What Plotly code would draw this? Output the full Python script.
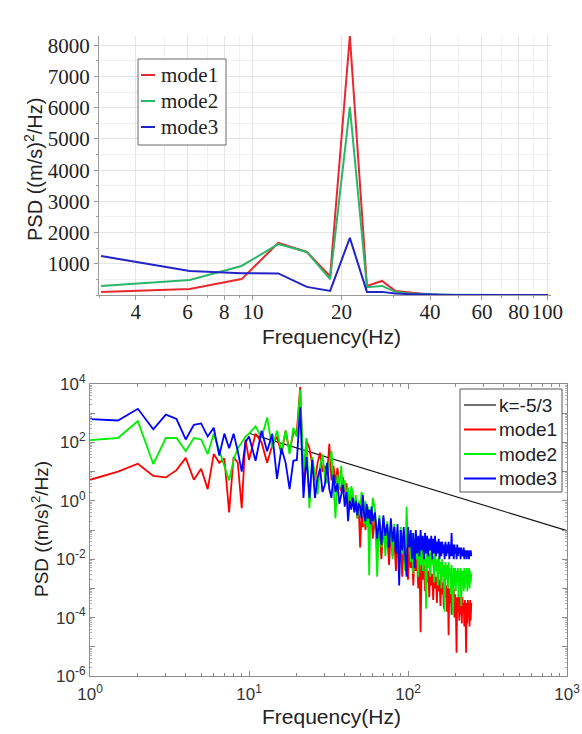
import numpy as np
import plotly.graph_objects as go

W, H = 582, 734

# ---------------- top chart data (linear PSD) ----------------
top_freq = [3.05, 6.10, 9.15, 12.2, 15.25, 18.3, 21.35, 24.4, 27.45, 30.5, 33.55, 36.6,
            39.65, 42.7, 45.75, 48.8, 51.85, 54.9, 57.95, 61.0, 64.05, 67.1, 70.15,
            73.2, 76.25, 79.3, 82.35, 85.4, 88.45, 91.5, 94.55, 97.6, 100.65]
top_mode1 = [100, 190, 510, 1670, 1380, 600, 8300, 290, 450, 130, 90, 50, 20, 12, 8, 6,
             5, 4, 4, 3, 3, 3, 2, 2, 2, 2, 2, 2, 1, 1, 1, 1, 1]
top_mode2 = [290, 480, 930, 1630, 1380, 510, 6030, 250, 290, 100, 60, 40, 15, 10, 7, 5,
             4, 3, 3, 3, 2, 2, 2, 2, 2, 1, 1, 1, 1, 1, 1, 1, 1]
top_mode3 = [1250, 770, 700, 690, 260, 130, 1830, 100, 100, 50, 30, 20, 10, 7, 5, 4,
             3, 3, 2, 2, 2, 2, 1, 1, 1, 1, 1, 1, 1, 1, 1, 1, 1]
top_xticks = [4, 6, 8, 10, 20, 40, 60, 80, 100]
top_yticks = [1000, 2000, 3000, 4000, 5000, 6000, 7000, 8000]

# ---------------- bottom chart data (log10 of PSD) ----------------
bot_freq = np.concatenate([np.arange(1.0, 10.01, 0.5),
                           np.arange(11, 61, 1),
                           np.arange(62, 251, 2)])

mode1_lo = [0.72, 1.0, 1.27, 0.85, 0.8, 1.05, 1.47, 0.72, 1.1, 0.4, 1.6, 1.3, 1.45, -0.4,
            1.5, 1.3, -0.25, 2.1, 1.4]
mode1_mid = [2.3, 2.0, 1.3, 1.9, 2.2, 1.6, 2.4, 1.7, 2.3, 2.4,
             3.9, 0.5, 2.05, 1.8, 1.2, 0.7, 1.3, 1.65, 1.0, 1.2,
             0.9, 1.95, 0.7, 1.2, 0.6, 1.13, 0.5, 0.34, 0.8, 0.3,
             0.6, 0.0, -0.25, 0.2, 0.0, -0.3, 0.1, -0.6, -0.2, -1.6,
             -0.5, -0.9, -0.34, -1.0, -0.5, -0.6, -1.2, -0.4, -0.5, -1.3]
mode1_hi = [-0.5, -1.8, -0.8, -2.0, -0.9, -1.6, -1.1, -2.2, -1.0, -1.9,
            -1.3, -2.4, -1.2, -2.1, -1.5, -2.6, -1.4, -2.2, -1.6, -2.7,
            -1.5, -2.3, -1.8, -2.9, -1.7, -2.4, -2.0, -3.0, -1.9, -4.5,
            -2.0, -2.7, -2.2, -3.1, -2.1, -2.8, -2.4, -3.3, -2.3, -2.9,
            -2.5, -3.4, -2.4, -3.0, -2.6, -3.5, -2.5, -3.1, -2.7, -3.6,
            -2.6, -3.2, -2.8, -3.7, -2.7, -3.3, -2.9, -3.8, -2.8, -4.6,
            -3.0, -3.5, -2.9, -3.9, -3.1, -3.6, -3.0, -4.0, -3.2, -3.7,
            -5.2, -3.3, -3.8, -3.2, -4.1, -3.3, -3.9, -3.4, -4.2, -3.3,
            -3.8, -3.5, -4.3, -3.4, -3.9, -5.2, -3.5, -4.2, -3.4, -4.0,
            -3.5, -4.3, -3.4, -4.1, -3.5]

mode2_lo = [2.08, 2.15, 2.73, 1.26, 2.15, 2.15, 1.7, 2.15, 2.1, 1.6, 2.3, 1.75, 1.2, 0.7,
            1.4, 1.8, 2.0, 2.2, 2.3]
mode2_mid = [2.55, 2.15, 2.85, 1.8, 2.4, 1.7, 2.4, 1.6, 2.5, 2.2,
             3.8, 1.0, 2.15, -0.25, 1.5, 0.9, 0.23, 1.2, 1.6, 0.8,
             0.6, 1.3, 1.7, 0.5, -0.6, 0.9, 0.4, 1.2, 0.3, 0.7,
             0.1, 0.45, -0.2, 0.5, 0.25, -0.4, 0.2, -0.6, 0.0, -0.5,
             0.3, 0.1, -0.8, 0.0, -0.9, -0.2, -2.55, -0.3, -0.7, 0.1]
mode2_hi = [-0.3, -2.6, -0.5, -1.6, -0.6, -1.9, -0.7, -1.5, -0.9, -2.0,
            -0.8, -1.7, -1.0, -2.2, -0.9, -1.8, -1.1, -2.4, -0.2, -1.6,
            -1.2, -2.1, -1.1, -2.5, -1.3, -2.0, -1.4, -2.6, -1.3, -2.2,
            -1.5, -2.4, -1.6, -2.0, -3.7, -1.6, -2.3, -1.8, -2.6, -1.7,
            -2.2, -1.9, -2.8, -1.8, -2.4, -2.0, -2.9, -1.9, -2.5, -2.1,
            -3.0, -2.0, -2.6, -2.2, -3.8, -2.1, -2.7, -2.2, -3.0, -2.1,
            -2.6, -2.3, -3.2, -2.2, -2.8, -3.9, -2.3, -2.9, -2.3, -3.1,
            -2.4, -2.8, -2.3, -3.3, -2.4, -2.9, -2.3, -3.6, -2.4, -2.9,
            -2.4, -3.1, -2.3, -3.0, -2.4, -2.8, -2.3, -3.1, -2.4, -2.9,
            -2.3, -3.0, -2.4, -2.8, -2.5]

mode3_lo = [2.8, 2.75, 3.15, 2.45, 2.95, 2.8, 2.1, 2.6, 2.65, 2.2, 2.5, 1.55, 2.3, 1.8,
            2.3, 1.7, 1.0, 2.0, 2.2]
mode3_mid = [1.37, 2.4, 1.7, 2.3, 0.75, 1.8, 1.3, 0.4, 1.37, 1.4,
             3.2, 0.1, 1.5, 0.1, 1.4, 0.1, 0.8, 1.1, 0.3, 0.55,
             1.3, 0.4, 0.1, 0.9, 0.3, 0.6, -0.1, 0.2, 0.55, -0.2,
             0.3, -0.7, 0.0, -0.3, 0.1, -0.4, 0.0, -0.5, -0.1, -0.2,
             -0.6, 0.2, -0.5, -0.7, -0.1, -0.6, -0.3, -0.8, -0.2, -0.7]
mode3_hi = [-0.4, -1.3, -0.6, -1.5, -0.5, -1.2, -0.8, -1.6, -0.6, -1.4,
            -0.9, -1.8, -0.8, -2.9, -1.0, -1.7, -0.9, -1.9, -2.6, -0.9,
            -1.6, -1.0, -2.0, -1.1, -2.3, -1.0, -1.8, -1.2, -1.9, -1.0,
            -1.7, -1.2, -2.0, -1.1, -1.8, -1.2, -1.9, -1.3, -1.7, -1.2,
            -2.0, -1.3, -1.8, -1.2, -1.9, -1.4, -1.8, -1.3, -2.0, -1.4,
            -1.9, -1.4, -1.8, -1.5, -2.0, -1.4, -1.9, -1.5, -1.8, -1.4,
            -2.0, -1.5, -1.9, -1.1, -1.9, -1.5, -2.0, -1.5, -1.8, -1.6,
            -2.0, -1.5, -1.9, -1.6, -1.8, -1.6, -2.0, -1.6, -1.9, -1.7,
            -1.9, -1.6, -2.0, -1.7, -1.9, -1.7, -2.0, -1.7, -1.9, -1.7,
            -2.0, -1.7, -1.9, -1.7, -1.9]

ref_freq = [10, 1000]
ref_psd = [0.095 * 100 ** (5 / 3), 0.095]   # k = -5/3 reference line

bot_xticks = [1, 10, 100, 1000]
bot_xtext = ["10<sup>0</sup>", "10<sup>1</sup>", "10<sup>2</sup>", "10<sup>3</sup>"]
bot_yticks = [1e-6, 1e-5, 1e-4, 1e-3, 1e-2, 1e-1, 1, 10, 100, 1000, 1e4]
bot_ytext = ["10<sup>-6</sup>", "", "10<sup>-4</sup>", "", "10<sup>-2</sup>", "",
             "10<sup>0</sup>", "", "10<sup>2</sup>", "", "10<sup>4</sup>"]

m1 = 10 ** np.array(mode1_lo + mode1_mid + mode1_hi)
m2 = 10 ** np.array(mode2_lo + mode2_mid + mode2_hi)
m3 = 10 ** np.array(mode3_lo + mode3_mid + mode3_hi)
assert len(m1) == len(m2) == len(m3) == len(bot_freq)

def px(x):
    return x / W

def py(y):
    return 1 - y / H

SERIF = "Liberation Serif"
SANS = "Liberation Sans"
TOP_COLORS = {"mode1": "#e8272e", "mode2": "#2bb568", "mode3": "#2323c8"}
BOT_COLORS = {"mode1": "#ff0000", "mode2": "#00ee00", "mode3": "#0000ff"}

fig = go.Figure()

# top traces
for name, vals in [("mode1", top_mode1), ("mode2", top_mode2), ("mode3", top_mode3)]:
    fig.add_trace(go.Scatter(x=top_freq, y=vals, mode="lines", name=name,
                             line=dict(color=TOP_COLORS[name], width=2),
                             xaxis="x", yaxis="y", showlegend=False))

# bottom traces
fig.add_trace(go.Scatter(x=ref_freq, y=ref_psd, mode="lines", name="k=-5/3",
                         line=dict(color="#111111", width=1.1),
                         xaxis="x2", yaxis="y2", showlegend=False))
for name, vals in [("mode1", m1), ("mode2", m2), ("mode3", m3)]:
    fig.add_trace(go.Scatter(x=bot_freq, y=vals, mode="lines", name=name,
                             line=dict(color=BOT_COLORS[name], width=1.8),
                             xaxis="x2", yaxis="y2", showlegend=False))

axis_line = "#9a9a9a"

fig.update_layout(
    width=W, height=H,
    margin=dict(l=0, r=0, t=0, b=0),
    paper_bgcolor="white", plot_bgcolor="white",
    showlegend=False,
    xaxis=dict(domain=[px(99), px(551)], anchor="y", type="log",
               range=[np.log10(3.0), np.log10(103)],
               tickvals=top_xticks, ticktext=[str(v) for v in top_xticks],
               tickfont=dict(family=SERIF, size=21, color="#222"),
               ticklabelstandoff=-6,
               showline=True, linecolor=axis_line, linewidth=1,
               ticks="outside", ticklen=4, tickcolor=axis_line,
               showgrid=True, gridcolor="#e4e4e4", gridwidth=1,
               minor=dict(dtick="D1", showgrid=True, gridcolor="#f1f1f1",
                          ticks="outside", ticklen=2, tickcolor=axis_line),
               zeroline=False, automargin=False),
    yaxis=dict(domain=[py(295), py(36)], anchor="x",
               range=[0, 8300],
               tickvals=top_yticks, ticktext=[str(v) for v in top_yticks],
               tickfont=dict(family=SERIF, size=21, color="#222"),
               showline=True, linecolor=axis_line, linewidth=1,
               ticks="outside", ticklen=4, tickcolor=axis_line,
               showgrid=True, gridcolor="#e4e4e4",
               minor=dict(dtick=500, showgrid=True, gridcolor="#f1f1f1",
                          ticks="outside", ticklen=2, tickcolor=axis_line),
               zeroline=False, automargin=False),
    xaxis2=dict(domain=[px(90), px(567)], anchor="y2", type="log",
                range=[0, 3],
                tickvals=bot_xticks, ticktext=bot_xtext,
                tickfont=dict(family=SANS, size=17, color="#333"),
                ticklabelstandoff=3,
                showline=True, linecolor="#8c8c8c", linewidth=1, mirror="ticks",
                ticks="inside", ticklen=5, tickcolor="#8c8c8c",
                minor=dict(dtick="D1", ticks="inside", ticklen=3, tickcolor="#8c8c8c"),
                showgrid=False, zeroline=False, automargin=False),
    yaxis2=dict(domain=[py(676), py(384)], anchor="x2", type="log",
                range=[-6, 4],
                tickvals=bot_yticks, ticktext=bot_ytext,
                tickfont=dict(family=SANS, size=17, color="#333"),
                showline=True, linecolor="#8c8c8c", linewidth=1, mirror="ticks",
                ticks="inside", ticklen=5, tickcolor="#8c8c8c",
                minor=dict(dtick="D1", ticks="inside", ticklen=2, tickcolor="#b0b0b0"),
                showgrid=False, zeroline=False, automargin=False),
)

annotations = [
    dict(x=px(331), y=py(336), text="Frequency(Hz)", font=dict(family=SANS, size=21, color="#222")),
    dict(x=px(34), y=py(170), text="PSD ((m/s)<sup>2</sup>/Hz)", textangle=-90,
         font=dict(family=SANS, size=20, color="#222")),
    dict(x=px(331), y=py(716), text="Frequency(Hz)", font=dict(family=SANS, size=21, color="#222")),
    dict(x=px(40), y=py(529), text="PSD ((m/s)<sup>2</sup>/Hz)", textangle=-90,
         font=dict(family=SANS, size=19, color="#222")),
]
for a in annotations:
    a.update(xref="paper", yref="paper", showarrow=False, xanchor="center", yanchor="middle")

shapes = []
# top legend (manual)
shapes.append(dict(type="rect", xref="paper", yref="paper", x0=px(138), x1=px(226),
                   y0=py(145), y1=py(59), line=dict(color="#6a6a6a", width=1),
                   fillcolor="white", layer="above"))
for i, name in enumerate(["mode1", "mode2", "mode3"]):
    yy = 75 + 26 * i
    shapes.append(dict(type="line", xref="paper", yref="paper", x0=px(141), x1=px(155),
                       y0=py(yy), y1=py(yy), line=dict(color=TOP_COLORS[name], width=2),
                       layer="above"))
    annotations.append(dict(x=px(159), y=py(yy), text=name, xref="paper", yref="paper",
                            showarrow=False, xanchor="left", yanchor="middle",
                            font=dict(family=SERIF, size=21, color="#222")))

# bottom legend (manual)
shapes.append(dict(type="rect", xref="paper", yref="paper", x0=px(460), x1=px(562),
                   y0=py(492), y1=py(389), line=dict(color="#555", width=1),
                   fillcolor="white", layer="above"))
for i, (name, col) in enumerate([("k=-5/3", "#111111"), ("mode1", BOT_COLORS["mode1"]),
                                 ("mode2", BOT_COLORS["mode2"]), ("mode3", BOT_COLORS["mode3"])]):
    yy = 405 + 24.5 * i
    shapes.append(dict(type="line", xref="paper", yref="paper", x0=px(464), x1=px(496),
                       y0=py(yy), y1=py(yy),
                       line=dict(color=col, width=1.2 if i == 0 else 2), layer="above"))
    annotations.append(dict(x=px(497), y=py(yy), text=name, xref="paper", yref="paper",
                            showarrow=False, xanchor="left", yanchor="middle",
                            font=dict(family=SANS, size=19, color="#222")))

fig.update_layout(annotations=annotations, shapes=shapes)
fig.write_html("out.html")
